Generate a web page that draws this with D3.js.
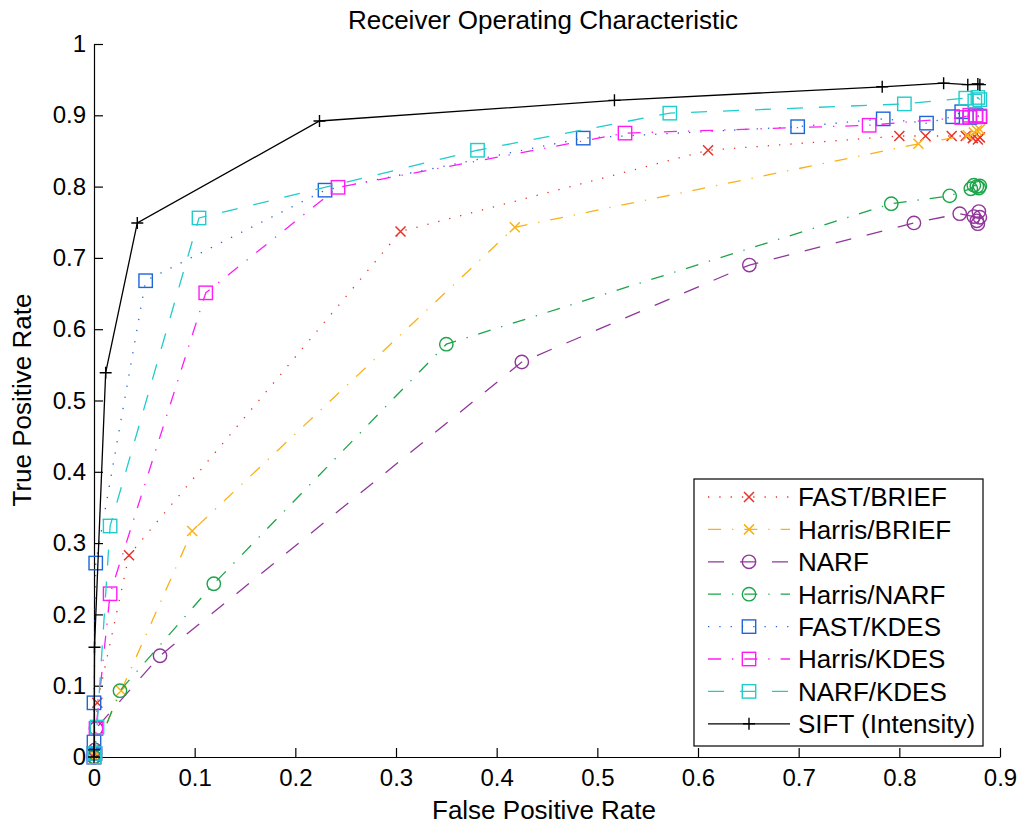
<!DOCTYPE html>
<html><head><meta charset="utf-8">
<script src="https://cdn.jsdelivr.net/npm/d3@7"></script>
<style>html,body{margin:0;padding:0;background:#fff;}svg{display:block;}</style>
</head><body>
<svg id="chart" width="1019" height="825"></svg>
<script>
// ---- data ----
const seriesNames = ["FAST/BRIEF","Harris/BRIEF","NARF","Harris/NARF","FAST/KDES","Harris/KDES","NARF/KDES","SIFT (Intensity)"];
const xTicks = [0,0.1,0.2,0.3,0.4,0.5,0.6,0.7,0.8,0.9];
const yTicks = [0,0.1,0.2,0.3,0.4,0.5,0.6,0.7,0.8,0.9,1];

const fastBriefFpr = [0,0.0005,0.0033,0.0348,0.3045,0.61,0.80,0.826,0.852,0.866,0.873,0.878,0.880];
const fastBriefTpr = [0,0.005,0.076,0.283,0.737,0.851,0.871,0.871,0.871,0.871,0.868,0.866,0.869];
const harrisBriefFpr = [0,0.001,0.027,0.0975,0.418,0.819,0.868,0.874,0.877,0.880];
const harrisBriefTpr = [0,0.01,0.093,0.317,0.743,0.860,0.872,0.876,0.879,0.880];
const narfFpr = [0,0.001,0.002,0.0656,0.425,0.651,0.8145,0.860,0.874,0.877,0.879,0.880,0.878];
const narfTpr = [0,0.01,0.04,0.142,0.554,0.690,0.749,0.762,0.758,0.752,0.765,0.757,0.748];
const harrisNarfFpr = [0,0.001,0.0258,0.119,0.350,0.792,0.850,0.871,0.874,0.877,0.879,0.880];
const harrisNarfTpr = [0,0.005,0.093,0.243,0.579,0.776,0.787,0.797,0.802,0.800,0.798,0.801];
const fastKdesFpr = [0,0,0,0,0.0017,0.0513,0.2295,0.486,0.699,0.784,0.827,0.853,0.862,0.870,0.876,0.880];
const fastKdesTpr = [0,0.005,0.021,0.076,0.272,0.668,0.795,0.868,0.884,0.895,0.889,0.898,0.905,0.897,0.900,0.898];
const harrisKdesFpr = [0,0.001,0.002,0.016,0.111,0.2424,0.5275,0.77,0.862,0.870,0.876,0.880];
const harrisKdesTpr = [0,0.005,0.04,0.229,0.651,0.799,0.875,0.886,0.897,0.900,0.898,0.899];
const narfKdesFpr = [0,0.001,0.003,0.016,0.1043,0.381,0.572,0.805,0.866,0.875,0.878,0.880];
const narfKdesTpr = [0,0.005,0.042,0.324,0.756,0.851,0.903,0.916,0.924,0.920,0.925,0.922];
const siftFpr = [0,0,0.0005,0.0116,0.043,0.224,0.517,0.783,0.844,0.868,0.878,0.880];
const siftTpr = [0,0.01,0.154,0.539,0.749,0.892,0.921,0.940,0.945,0.943,0.944,0.943];

const seriesFpr = [fastBriefFpr,harrisBriefFpr,narfFpr,harrisNarfFpr,fastKdesFpr,harrisKdesFpr,narfKdesFpr,siftFpr];
const seriesTpr = [fastBriefTpr,harrisBriefTpr,narfTpr,harrisNarfTpr,fastKdesTpr,harrisKdesTpr,narfKdesTpr,siftTpr];
const seriesColors = ["#e8322a","#fbb116","#90379a","#1ba548","#1f66d6","#ff1cf4","#20cccc","#000000"];
const seriesMarkers = ["x","x","o","o","s","s","s","+"];
const seriesDash = ["1.3,10","13,11,1.3,11","16,16","13,11,1.3,11","1.3,10","13,11,1.3,11","16,16",null];

// ---- layout ----
const svg = d3.select("#chart");
const FONT = "'Liberation Sans', Arial, Helvetica, sans-serif";
const x = d3.scaleLinear().domain([0,0.9]).range([94,1000]);
const y = d3.scaleLinear().domain([0,1]).range([757,44]);

// title and labels
svg.append("text").attr("x",543).attr("y",29).attr("text-anchor","middle")
  .attr("font-family",FONT).attr("font-size",26).text("Receiver Operating Characteristic");
svg.append("text").attr("x",544).attr("y",819).attr("text-anchor","middle")
  .attr("font-family",FONT).attr("font-size",26).text("False Positive Rate");
svg.append("text").attr("transform","translate(31,400) rotate(-90)").attr("text-anchor","middle")
  .attr("font-family",FONT).attr("font-size",26).text("True Positive Rate");

// axes (MATLAB style: inward ticks, no box)
const xAxis = d3.axisBottom(x).tickValues(xTicks).tickFormat(d=>d3.format("~g")(d)).tickSizeInner(-9).tickSizeOuter(0).tickPadding(12);
const yAxis = d3.axisLeft(y).tickValues(yTicks).tickFormat(d=>d3.format("~g")(d)).tickSizeInner(-9).tickSizeOuter(0).tickPadding(8);
const gx = svg.append("g").attr("transform","translate(0,757)").call(xAxis);
const gy = svg.append("g").attr("transform","translate(94,0)").call(yAxis);
[gx,gy].forEach(g=>{
  g.selectAll("path").attr("stroke","#000").attr("stroke-width",1.2);
  g.selectAll("line").attr("stroke","#000").attr("stroke-width",1.2);
  g.selectAll("text").attr("font-family",FONT).attr("font-size",24).attr("fill","#000");
});
gx.selectAll("text").attr("dy","0.71em");

// markers
function drawMarker(g, type, cx, cy, color){
  if(type==="x"){
    const h=5;
    g.append("path").attr("d",`M${cx-h},${cy-h}L${cx+h},${cy+h}M${cx-h},${cy+h}L${cx+h},${cy-h}`)
      .attr("stroke",color).attr("stroke-width",1.5).attr("fill","none");
  } else if(type==="o"){
    g.append("circle").attr("cx",cx).attr("cy",cy).attr("r",6.7)
      .attr("stroke",color).attr("stroke-width",1.4).attr("fill","none");
  } else if(type==="s"){
    const h=6.7;
    g.append("rect").attr("x",cx-h).attr("y",cy-h).attr("width",2*h).attr("height",2*h)
      .attr("stroke",color).attr("stroke-width",1.4).attr("fill","none");
  } else if(type==="+"){
    const h=6;
    g.append("path").attr("d",`M${cx-h},${cy}L${cx+h},${cy}M${cx},${cy-h}L${cx},${cy+h}`)
      .attr("stroke",color).attr("stroke-width",1.4).attr("fill","none");
  }
}

const line = d3.line().x(d=>x(d[0])).y(d=>y(d[1]));
seriesNames.forEach((name,i)=>{
  const pts = seriesFpr[i].map((f,j)=>[f,seriesTpr[i][j]]);
  const g = svg.append("g");
  const p = g.append("path").datum(pts).attr("d",line).attr("fill","none")
    .attr("stroke",seriesColors[i]).attr("stroke-width",1.3);
  if(seriesDash[i]) p.attr("stroke-dasharray",seriesDash[i]);
  pts.forEach(d=>drawMarker(g,seriesMarkers[i],x(d[0]),y(d[1]),seriesColors[i]));
});

// legend
const lg = svg.append("g");
lg.append("rect").attr("x",694).attr("y",479).attr("width",289).attr("height",267)
  .attr("fill","#fff").attr("stroke","#000").attr("stroke-width",1.2);
seriesNames.forEach((name,i)=>{
  const cy = 497 + i*32.4;
  const l = lg.append("line").attr("x1",708).attr("x2",790).attr("y1",cy).attr("y2",cy)
    .attr("stroke",seriesColors[i]).attr("stroke-width",1.3);
  if(seriesDash[i]) l.attr("stroke-dasharray",seriesDash[i]);
  drawMarker(lg,seriesMarkers[i],749,cy,seriesColors[i]);
  lg.append("text").attr("x",798).attr("y",cy).attr("dy","0.36em")
    .attr("font-family",FONT).attr("font-size",26).text(name);
});
</script>
</body></html>
